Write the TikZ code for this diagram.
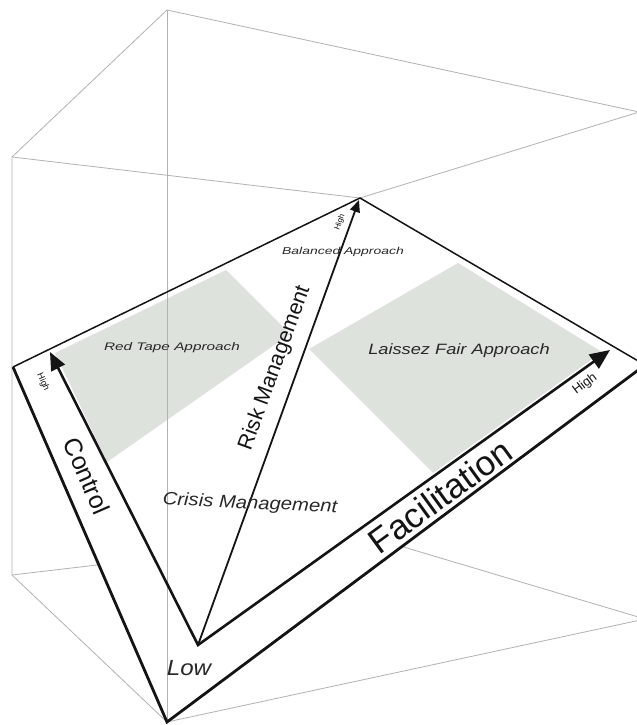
\documentclass[tikz,border=0pt]{standalone}
\usepackage{fontspec}
\usepackage{graphicx}
\setmainfont{Liberation Sans}
\usetikzlibrary{arrows.meta}
\definecolor{cubegray}{RGB}{178,178,178}
\definecolor{shadecol}{RGB}{221,226,220}
\definecolor{ink}{RGB}{20,20,20}
\definecolor{zonetext}{RGB}{40,40,40}
\begin{document}
\begin{tikzpicture}[x=1bp,y=-1bp,
  cubeline/.style={draw=cubegray,line width=0.8bp},
  planeedge/.style={draw=ink,line width=1.5bp,line join=miter},
  barline/.style={draw=ink,line width=2.8bp,line join=miter},
  axisarrow/.style={draw=ink,line width=2.6bp,line join=miter},
  lbl/.style={text=ink,inner sep=0pt},
  zone/.style={text=zonetext,inner sep=0pt,font=\itshape},
]
\fill[white] (0,0) rectangle (637,725);
\useasboundingbox (0,0) rectangle (637,725);
% cube corners
\coordinate (T) at (167,10);
\coordinate (L) at (12,157);
\coordinate (C) at (360,198);
\coordinate (R) at (639,112);
\coordinate (Bt) at (167,722);
\coordinate (Lb) at (12,575);
\coordinate (Cb) at (360,534);
\coordinate (Rb) at (645,619);
% plane
\coordinate (PL) at (13,367);
\coordinate (PR) at (645,365);
\coordinate (O) at (198,645);
\coordinate (tipC) at (50,352);
\coordinate (tipF) at (610,350);
\coordinate (tipR) at (359,200);
% cube edges
\draw[cubeline] (T) -- (L) -- (Lb) -- (Bt) -- (Rb);
\draw[cubeline] (T) -- (R) -- (C) -- (L);
\draw[cubeline] (Lb) -- (Cb) -- (Rb);
% plane surface
\fill[white] (PL) -- (C) -- (PR) -- (Bt) -- cycle;
\fill[shadecol] (55,353) -- (226,270) -- (290,334) -- (107,462) -- cycle;
\fill[shadecol] (309,349) -- (458,263) -- (602,352) -- (433,473) -- cycle;
\draw[cubeline] (T) -- (Bt);
\draw[planeedge] (PL) -- (C) -- (PR);
\draw[barline] (PL) -- (Bt) -- (PR);
\draw[axisarrow,{Triangle[length=18bp,width=15bp]}-{Triangle[length=20bp,width=17bp]}] (tipC) -- (O) -- (tipF);
\draw[draw=ink,line width=1.8bp,-{Triangle[length=12bp,width=10bp]}] (O) -- (tipR);
% labels
\node[lbl,rotate=-66.5] (ctl) at (87,476) {\fontsize{25}{25}\selectfont Control};
\node[lbl,rotate=36] (fac) at (440,496) {\fontsize{35}{35}\selectfont Facilitation};
\node[lbl,rotate=70] (rsk) at (275,368) {\fontsize{21.5}{21.5}\selectfont Risk Management};
\node[lbl,rotate=-66.5] (hc) at (43,382) {\fontsize{9}{9}\selectfont High};
\node[lbl,rotate=37] (hf) at (585,384) {\fontsize{13}{13}\selectfont High};
\node[lbl,rotate=70] (hr) at (340,222) {\fontsize{8}{8}\selectfont High};
\node[zone] (rt) at (172,348) {\scalebox{1.4}[1]{\fontsize{11}{11}\selectfont\itshape Red Tape Approach}};
\node[zone] (lf) at (459,351) {\scalebox{1.22}[1]{\fontsize{15}{15}\selectfont\itshape Laissez Fair Approach}};
\node[zone] (ba) at (343,252) {\scalebox{1.4}[1]{\fontsize{10}{10}\selectfont\itshape Balanced Approach}};
\node[zone,rotate=-2.5] (cm) at (250,504) {\scalebox{1.13}[1]{\fontsize{18}{18}\selectfont\itshape Crisis Management}};
\node[zone] (low) at (189,668) {\scalebox{1.1}[1]{\fontsize{22}{22}\selectfont\itshape Low}};
\end{tikzpicture}
\end{document}
